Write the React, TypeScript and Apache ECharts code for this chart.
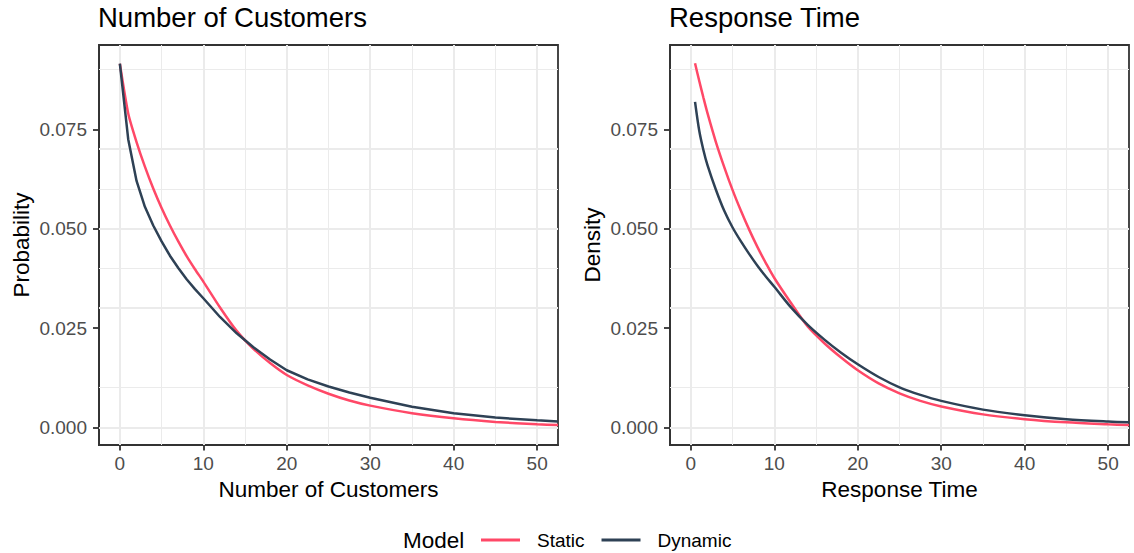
import React, { useEffect, useRef } from "react";
import * as echarts from "echarts";

// ---- Data ----
const leftX = [0, 1, 2, 3, 4, 5, 6, 7, 8, 9, 10, 12, 14, 16, 18, 20, 22.5, 25, 27.5, 30, 35, 40, 45, 50, 52.5];
const leftStatic = [0.0915, 0.079, 0.0718, 0.0656, 0.0601, 0.0552, 0.0508, 0.0468, 0.0431, 0.0398, 0.0367, 0.0302, 0.0243, 0.0198, 0.0162, 0.0132, 0.0106, 0.0085, 0.0068, 0.0055, 0.0036, 0.0023, 0.0014, 0.0008, 0.0006];
const leftDynamic = [0.0915, 0.0725, 0.062, 0.0555, 0.0508, 0.0468, 0.0432, 0.0401, 0.0373, 0.0348, 0.0325, 0.0278, 0.0237, 0.0202, 0.0171, 0.0144, 0.0121, 0.0103, 0.0088, 0.0075, 0.0052, 0.0036, 0.0025, 0.0018, 0.0015];

const rightX = [0.5, 1, 1.5, 2, 3, 4, 5, 6, 7, 8, 9, 10, 12, 14, 16, 18, 20, 22.5, 25, 27.5, 30, 35, 40, 45, 50, 52.5];
const rightStatic = [0.0916, 0.0872, 0.083, 0.079, 0.0718, 0.0655, 0.0597, 0.0545, 0.0497, 0.0453, 0.0413, 0.0376, 0.0313, 0.0254, 0.0212, 0.0176, 0.0144, 0.0111, 0.0086, 0.0067, 0.0053, 0.0033, 0.0021, 0.0013, 0.0008, 0.0006];
const rightDynamic = [0.0819, 0.0747, 0.0698, 0.0659, 0.0598, 0.0545, 0.0503, 0.0468, 0.0436, 0.0406, 0.0379, 0.0354, 0.0302, 0.0258, 0.0221, 0.0188, 0.0159, 0.0127, 0.0101, 0.0082, 0.0067, 0.0045, 0.0031, 0.0021, 0.0015, 0.0013];

const xMajor = [0, 10, 20, 30, 40, 50];
const xMinor = [5, 15, 25, 35, 45];
const yMajor = [0, 0.025, 0.05, 0.075];
const yMinor = [0.0125, 0.0375, 0.0625, 0.0875];
const yLabels = ["0.000", "0.025", "0.050", "0.075"];

const panelTitles = ["Number of Customers", "Response Time"];
const xTitles = ["Number of Customers", "Response Time"];
const yTitles = ["Probability", "Density"];
const seriesNames = ["Static", "Dynamic"];
const legendTitle = "Model";

const COLORS = { Static: "#FF4867", Dynamic: "#2E4155" };
const FONT = '"Liberation Sans", Arial, Helvetica, sans-serif';

const grids = [
  { left: 99, top: 45, width: 459, height: 400 },
  { left: 670, top: 45, width: 459, height: 400 },
];

function pairs(xs: number[], ys: number[]) {
  return xs.map((x, i) => [x, ys[i]]);
}

export default function App() {
  const ref = useRef<HTMLDivElement>(null);
  useEffect(() => {
    if (!ref.current) return;
    const chart = echarts.init(ref.current, undefined, { renderer: "svg" });

    const gridLines = [
      ...xMajor.map((v) => ({ xAxis: v, lineStyle: { width: 2, color: "#EBEBEB", type: "solid" } })),
      ...xMinor.map((v) => ({ xAxis: v, lineStyle: { width: 1, color: "#EBEBEB", type: "solid" } })),
      ...yMajor.map((v) => ({ yAxis: v, lineStyle: { width: 2, color: "#EBEBEB", type: "solid" } })),
      ...yMinor.map((v) => ({ yAxis: v, lineStyle: { width: 1, color: "#EBEBEB", type: "solid" } })),
    ];

    const xAxes = grids.map((_, i) => ({
      type: "value",
      gridIndex: i,
      min: -2.5,
      max: 52.5,
      axisLine: { show: true, onZero: false, lineStyle: { color: "#333333", width: 1.8 } },
      axisTick: { show: true, customValues: xMajor, length: 5.5, lineStyle: { color: "#333333", width: 1.8 } },
      axisLabel: { customValues: xMajor, color: "#4D4D4D", fontSize: 19, fontFamily: FONT, margin: 9 },
      splitLine: { show: false },
    }));
    const yAxes = grids.map((_, i) => ({
      type: "value",
      gridIndex: i,
      min: -0.0044,
      max: 0.0962,
      axisLine: { show: true, onZero: false, lineStyle: { color: "#333333", width: 1.8 } },
      axisTick: { show: true, customValues: yMajor, length: 6, lineStyle: { color: "#333333", width: 1.8 } },
      axisLabel: {
        customValues: yMajor,
        color: "#4D4D4D",
        fontSize: 19,
        fontFamily: FONT,
        margin: 12,
        formatter: (v: number) => {
          const idx = yMajor.findIndex((m) => Math.abs(m - v) < 1e-9);
          return idx >= 0 ? yLabels[idx] : "";
        },
      },
      splitLine: { show: false },
    }));

    const panels = [
      { xs: leftX, s: leftStatic, d: leftDynamic, smoothS: 0.2, smoothD: false },
      { xs: rightX, s: rightStatic, d: rightDynamic, smoothS: 0.3, smoothD: 0.3 },
    ];

    const series: any[] = [];
    panels.forEach((p, i) => {
      series.push({
        type: "line",
        xAxisIndex: i,
        yAxisIndex: i,
        data: [],
        z: 1,
        silent: true,
        markLine: {
          silent: true,
          symbol: ["none", "none"],
          label: { show: false },
          emphasis: { disabled: true },
          animation: false,
          data: gridLines,
        },
      });
      series.push({
        type: "line",
        name: seriesNames[0],
        xAxisIndex: i,
        yAxisIndex: i,
        data: pairs(p.xs, p.s),
        showSymbol: false,
        symbol: "none",
        smooth: p.smoothS,
        lineStyle: { color: COLORS.Static, width: 2.5 },
        itemStyle: { color: COLORS.Static },
        z: 5,
      });
      series.push({
        type: "line",
        name: seriesNames[1],
        xAxisIndex: i,
        yAxisIndex: i,
        data: pairs(p.xs, p.d),
        showSymbol: false,
        symbol: "none",
        smooth: p.smoothD,
        lineStyle: { color: COLORS.Dynamic, width: 2.5 },
        itemStyle: { color: COLORS.Dynamic },
        z: 6,
      });
    });

    const txt = (text: string, x: number, y: number, size: number, align: string, rot = 0, fill = "#000000") => ({
      type: "text",
      x,
      y,
      rotation: rot,
      silent: true,
      style: {
        text,
        fill,
        fontSize: size,
        fontFamily: FONT,
        textAlign: align,
        align,
        textVerticalAlign: "middle",
        verticalAlign: "middle",
      },
    });

    chart.setOption({
      animation: false,
      backgroundColor: "#FFFFFF",
      grid: grids.map((g) => ({
        ...g,
        show: true,
        borderColor: "#333333",
        borderWidth: 1.8,
        backgroundColor: "transparent",
        containLabel: false,
      })),
      xAxis: xAxes,
      yAxis: yAxes,
      legend: {
        data: seriesNames,
        left: 481,
        top: 529,
        padding: 0,
        icon: "rect",
        itemWidth: 39,
        itemHeight: 3,
        itemGap: 17,
        selectedMode: false,
        textStyle: { fontSize: 19, fontFamily: FONT, color: "#000000", padding: [0, 0, 0, 12], lineHeight: 22 },
      },
      graphic: [
        txt(panelTitles[0], 98, 17.5, 27.5, "left"),
        txt(panelTitles[1], 669, 17.5, 27.5, "left"),
        txt(xTitles[0], 328.5, 489, 22.5, "center"),
        txt(xTitles[1], 899.5, 489, 22.5, "center"),
        txt(yTitles[0], 21, 245, 22.5, "center", Math.PI / 2),
        txt(yTitles[1], 592, 245, 22.5, "center", Math.PI / 2),
        txt(legendTitle, 403, 540, 22.5, "left"),
      ],
      series,
    });
    return () => chart.dispose();
  }, []);
  return <div ref={ref} style={{ position: "absolute", left: 0, top: 0, width: 1134, height: 553 }} />;
}
